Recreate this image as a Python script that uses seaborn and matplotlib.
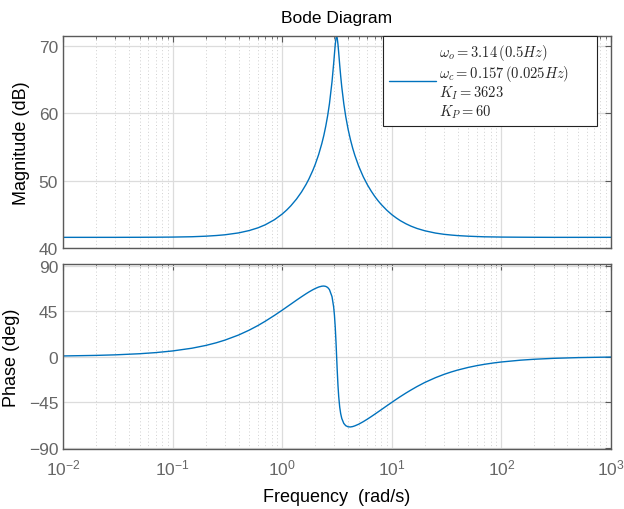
import numpy as np
import pandas as pd
import seaborn as sns
import matplotlib
matplotlib.use("Agg")
import matplotlib.pyplot as plt
from matplotlib.ticker import LogLocator, FixedLocator, NullFormatter, LogFormatterMathtext
from matplotlib.lines import Line2D

# Frequency response of the resonant controller
freq = [0.01, 0.02, 0.03, 0.05, 0.07, 0.1, 0.15, 0.2, 0.25, 0.3, 0.4, 0.5, 0.6, 0.7,
        0.85, 1.0, 1.1, 1.2, 1.35, 1.5, 1.65, 1.75, 1.9, 2.0, 2.15, 2.3, 2.4, 2.5,
        2.6, 2.7, 2.85, 2.95, 3.0, 3.05, 3.1, 3.12, 3.14, 3.16, 3.18, 3.23, 3.28,
        3.35, 3.42, 3.5, 3.65, 3.8, 4.0, 4.2, 4.4, 4.6, 5.0, 5.5, 6.0, 6.5, 7.0, 7.5,
        8.0, 9.0, 10.0, 11.0, 12.0, 13.5, 15.0, 17.0, 20.0, 25.0, 30.0, 35.0, 40.0,
        50.0, 60.0, 70.0, 85.0, 100.0, 150.0, 200.0, 300.0, 500.0, 1000.0]
magnitude_db = [41.58, 41.58, 41.58, 41.59, 41.60, 41.62, 41.67, 41.75, 41.85, 41.96,
                42.24, 42.59, 42.99, 43.44, 44.20, 45.04, 45.64, 46.27, 47.26, 48.31,
                49.43, 50.22, 51.49, 52.39, 53.86, 55.51, 56.73, 58.11, 59.65, 61.42,
                64.70, 67.39, 68.84, 70.20, 71.19, 71.39, 71.46, 71.39, 71.19, 70.26,
                69.01, 67.19, 65.54, 63.90, 61.45, 59.56, 57.61, 56.08, 54.83, 53.79,
                52.13, 50.57, 49.38, 48.44, 47.66, 47.02, 46.48, 45.62, 44.96, 44.46,
                44.05, 43.59, 43.24, 42.90, 42.56, 42.22, 42.03, 41.92, 41.84, 41.75,
                41.70, 41.66, 41.64, 41.62, 41.60, 41.59, 41.58, 41.58, 41.58]
phase_deg = [0.55, 1.10, 1.65, 2.75, 3.85, 5.50, 8.20, 10.9, 13.57, 16.2, 21.25, 26.07,
             30.6, 34.85, 40.66, 45.8, 48.95, 51.8, 55.69, 59.07, 62.02, 63.76, 65.98,
             67.2, 68.7, 69.55, 69.7, 69.34, 68.3, 66.2, 59.2, 49.0, 40.7, 29.1, 13.9,
             7.05, 0.0, -7.0, -13.7, -28.4, -39.5, -50.0, -56.55, -61.3, -66.15, -68.4,
             -69.53, -69.67, -69.29, -68.6, -66.9, -64.42, -61.9, -59.43, -57.06, -54.82,
             -52.7, -48.81, -45.4, -42.32, -39.6, -36.08, -33.1, -29.72, -25.7, -20.98,
             -17.66, -15.24, -13.39, -10.76, -8.99, -7.72, -6.37, -5.42, -3.62, -2.71,
             -1.81, -1.09, -0.54]

mag_ticks = [40, 50, 60, 70]
phase_ticks = [-90, -45, 0, 45, 90]
legend_label = ("$\\omega_o = 3.14\\,(0.5Hz)$\n"
                "$\\omega_c = 0.157\\,(0.025Hz)$" + " " * 6 + "\n"
                "$K_I = 3623$\n"
                "$K_P = 60$")

df = pd.DataFrame({"freq": freq, "mag": magnitude_db, "phase": phase_deg})

sns.set_theme(style="white")
plt.rcParams["font.family"] = ["Liberation Sans", "DejaVu Sans"]
plt.rcParams["mathtext.fontset"] = "cm"

line_color = "#0072BD"
spine_color = "#5a5a5a"
tick_color = "#666666"

fig = plt.figure(figsize=(6.24, 5.10), dpi=100)
ax1 = fig.add_axes([0.101, 0.5118, 0.878, 0.4157])
ax2 = fig.add_axes([0.101, 0.1176, 0.878, 0.3628])

sns.lineplot(data=df, x="freq", y="mag", ax=ax1, color=line_color, linewidth=1.0,
             sort=False, estimator=None, legend=False)
sns.lineplot(data=df, x="freq", y="phase", ax=ax2, color=line_color, linewidth=1.0,
             sort=False, estimator=None, legend=False)

for ax in (ax1, ax2):
    ax.set_xscale("log")
    ax.set_xlim(0.01, 1000)
    ax.xaxis.set_major_locator(LogLocator(base=10, numticks=10))
    ax.xaxis.set_minor_locator(LogLocator(base=10, subs=np.arange(2, 10), numticks=100))
    ax.xaxis.set_minor_formatter(NullFormatter())
    ax.grid(which="major", color="#dcdcdc", linewidth=0.9, linestyle="-")
    ax.grid(which="minor", axis="x", color="#d0d0d0", linewidth=0.7, linestyle=(0, (1, 2.5)))
    ax.set_axisbelow(True)
    for s in ax.spines.values():
        s.set_color(spine_color)
        s.set_linewidth(1.0)
    ax.tick_params(which="both", direction="in", top=True, right=True,
                   color=spine_color, labelcolor=tick_color, labelsize=12.5)
    ax.tick_params(which="major", length=4, width=0.8)
    ax.tick_params(which="minor", length=2.5, width=0.6)

ax1.set_ylim(40, 71.5)
ax1.yaxis.set_major_locator(FixedLocator(mag_ticks))
ax1.tick_params(axis="x", labelbottom=False)
ax1.set_xlabel("")
ax1.set_ylabel("Magnitude (dB)", fontsize=13, color="black", labelpad=6)
ax1.set_title("Bode Diagram", fontsize=12.5, color="black", pad=10)

ax2.set_ylim(-91.5, 91.5)
ax2.yaxis.set_major_locator(FixedLocator(phase_ticks))
ax2.xaxis.set_major_formatter(LogFormatterMathtext())
ax2.tick_params(axis="x", which="major", pad=6)
ax2.set_ylabel("Phase (deg)", fontsize=13, color="black", labelpad=6)
ax2.set_xlabel("Frequency  (rad/s)", fontsize=13, color="black", labelpad=8)

handle = Line2D([], [], color=line_color, linewidth=1.0)
leg = ax1.legend([handle], [legend_label], loc="upper right",
                 bbox_to_anchor=(0.974, 1.0), borderaxespad=0, fancybox=False,
                 framealpha=1, edgecolor="#222222", fontsize=10.5,
                 handlelength=3.2, handletextpad=0.2, borderpad=0.4)
leg.get_frame().set_linewidth(0.8)
for t in leg.get_texts():
    t.set_multialignment("left")
    t.set_linespacing(1.08)

fig.savefig("out.png", dpi=100)
